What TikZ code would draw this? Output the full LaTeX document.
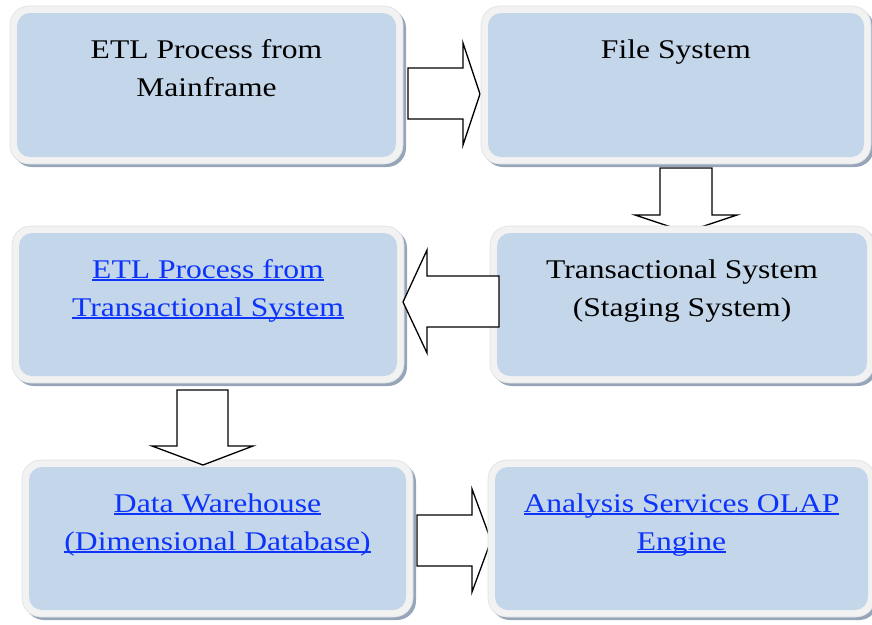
\documentclass[tikz,border=0pt]{standalone}
\usepackage{fontspec}
\setmainfont{Liberation Serif}[FakeStretch=1.17]
\definecolor{boxblue}{RGB}{196,214,234}
\definecolor{bordc}{RGB}{242,242,242}
\definecolor{bordline}{RGB}{222,224,228}
\definecolor{shadowc}{RGB}{150,165,184}
\definecolor{linkblue}{RGB}{12,52,250}
\newsavebox\lnkbox
\newcommand\lnk[1]{\textcolor{linkblue}{\sbox\lnkbox{#1}\rlap{\rule[-2.8pt]{\wd\lnkbox}{1.5pt}}\usebox\lnkbox}}
\tikzset{
  outerbox/.style={fill=bordc, draw=bordline, line width=0.6pt, rounded corners=19pt},
  shadowbox/.style={fill=shadowc, rounded corners=19pt},
  innerbox/.style={fill=boxblue, rounded corners=13pt, inner sep=0pt, draw=none},
  boxtext/.style={anchor=north, inner sep=0pt, align=center, font=\fontsize{27}{38}\selectfont},
  blockarrow/.style={draw=black, fill=white, line width=1.3pt, line join=miter},
}
\newcommand\panel[6]{%
  \fill[shadowbox] ({#2+3},{#3+3}) rectangle ({#4+3},{#5+3});
  \draw[outerbox] (#2,#3) rectangle (#4,#5);
  \node[innerbox, minimum width={#4-#2-14}, minimum height={#5-#3-14}] (#1) at ({(#2+#4)/2},{(#3+#5)/2}) {};
  \node[boxtext] (#1-t) at ([yshift=-18.4pt]#1.north) {#6};
}
\begin{document}
\begin{tikzpicture}[x=1pt,y=-1pt]
\useasboundingbox (0,0) rectangle (872,624);
% arrows whose tips lie under the boxes
\draw[blockarrow] (408,68) -- (463,68) -- (463,43) -- (480,94) -- (463,145) -- (463,119) -- (408,119) -- cycle;
\draw[blockarrow] (660,168) -- (712,168) -- (712,215) -- (737,215) -- (686,232) -- (635,215) -- (660,215) -- cycle;
\draw[blockarrow] (417,515) -- (472,515) -- (472,489) -- (491,540.5) -- (472,592) -- (472,566) -- (417,566) -- cycle;
% boxes
\panel{b1}{10}{6}{403}{164}{\strut ETL Process from\\\strut Mainframe}
\panel{b2}{481}{6}{871}{164}{\strut File System}
\panel{b3}{12}{226}{404}{383}{\strut\lnk{ETL Process from}\\\strut\lnk{Transactional System}}
\panel{b4}{490}{226}{874}{383}{\strut Transactional System\\\strut (Staging System)}
\panel{b5}{22}{460}{413}{617}{\strut\lnk{Data Warehouse}\\\strut\lnk{(Dimensional Database)}}
\panel{b6}{488}{460}{875}{617}{\strut\lnk{Analysis Services OLAP}\\\strut\lnk{Engine}}
% arrows drawn over the box borders
\draw[blockarrow] (499,276) -- (427,276) -- (427,250) -- (403,302) -- (427,353) -- (427,327) -- (499,327) -- cycle;
\draw[blockarrow] (177,390) -- (228,390) -- (228,446) -- (253,446) -- (203,465) -- (152,446) -- (177,446) -- cycle;
\end{tikzpicture}
\end{document}
